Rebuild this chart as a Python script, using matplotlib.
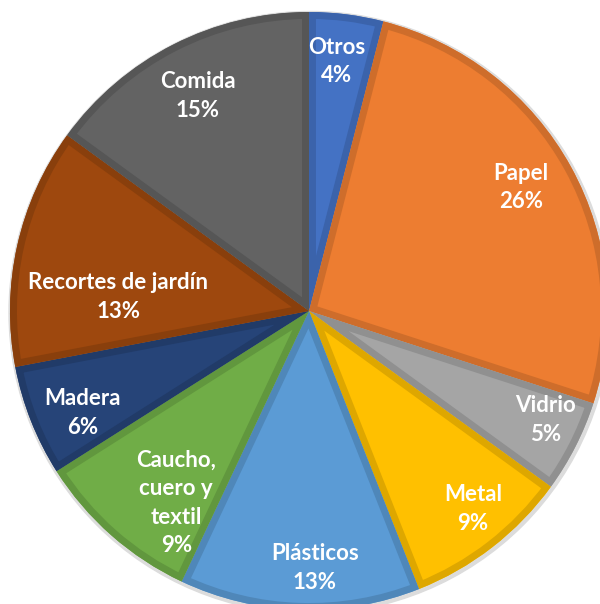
import matplotlib
matplotlib.use("Agg")
import matplotlib.pyplot as plt
import numpy as np
from matplotlib.patches import Circle, Wedge
from matplotlib.colors import to_rgb

categories = ["Otros", "Papel", "Vidrio", "Metal", "Plásticos",
              "Caucho,\ncuero y\ntextil", "Madera", "Recortes de jardín", "Comida"]
values = [4, 26, 5, 9, 13, 9, 6, 13, 15]
colors = ["#4472C4", "#ED7D31", "#A5A5A5", "#FFC000", "#5B9BD5",
          "#70AD47", "#264478", "#9E480E", "#636363"]
# label placement (fraction of radius, angular nudge in degrees)
label_r = [0.84, 0.82, 0.87, 0.86, 0.86, 0.78, 0.83, 0.64, 0.81]
label_dang = [0.8, 1.4, 2.2, 1.8, 3.1, 6.7, 2.6, 8.4, 0.3]

W, H = 600, 604
cx, cy, R = 309, 311, 299

fig = plt.figure(figsize=(W / 100, H / 100), dpi=100)
ax = fig.add_axes([0, 0, 1, 1])

# soft shadow
ax.add_patch(Circle((1, -1.5), R + 2, color="#dcdcdc", zorder=0))

wedges, _ = ax.pie(values, colors=colors, startangle=90, counterclock=False,
                   radius=R, center=(0, 0), frame=True,
                   wedgeprops=dict(linewidth=0))
ax.set_xlim(-cx, W - cx)
ax.set_ylim(-(H - cy), cy)
ax.set_aspect("equal")
ax.axis("off")

for w, c in zip(wedges, colors):
    w.set_zorder(1)
    dark = tuple(np.array(to_rgb(c)) * 0.87)
    b = Wedge((0, 0), R, w.theta1, w.theta2, facecolor="none",
              edgecolor=dark, linewidth=10, zorder=2)
    ax.add_patch(b)
    b.set_clip_path(w)

for w, cat, v, rf, da in zip(wedges, categories, values, label_r, label_dang):
    mid = 0.5 * (w.theta1 + w.theta2) + da
    x = rf * R * np.cos(np.radians(mid))
    y = rf * R * np.sin(np.radians(mid))
    ax.text(x, y, f"{cat}\n{v}%", ha="center", va="center", color="white",
            fontsize=16, fontweight="bold", family=["Lato", "DejaVu Sans"],
            linespacing=1.45, zorder=5)

fig.savefig("out.png", dpi=100)
